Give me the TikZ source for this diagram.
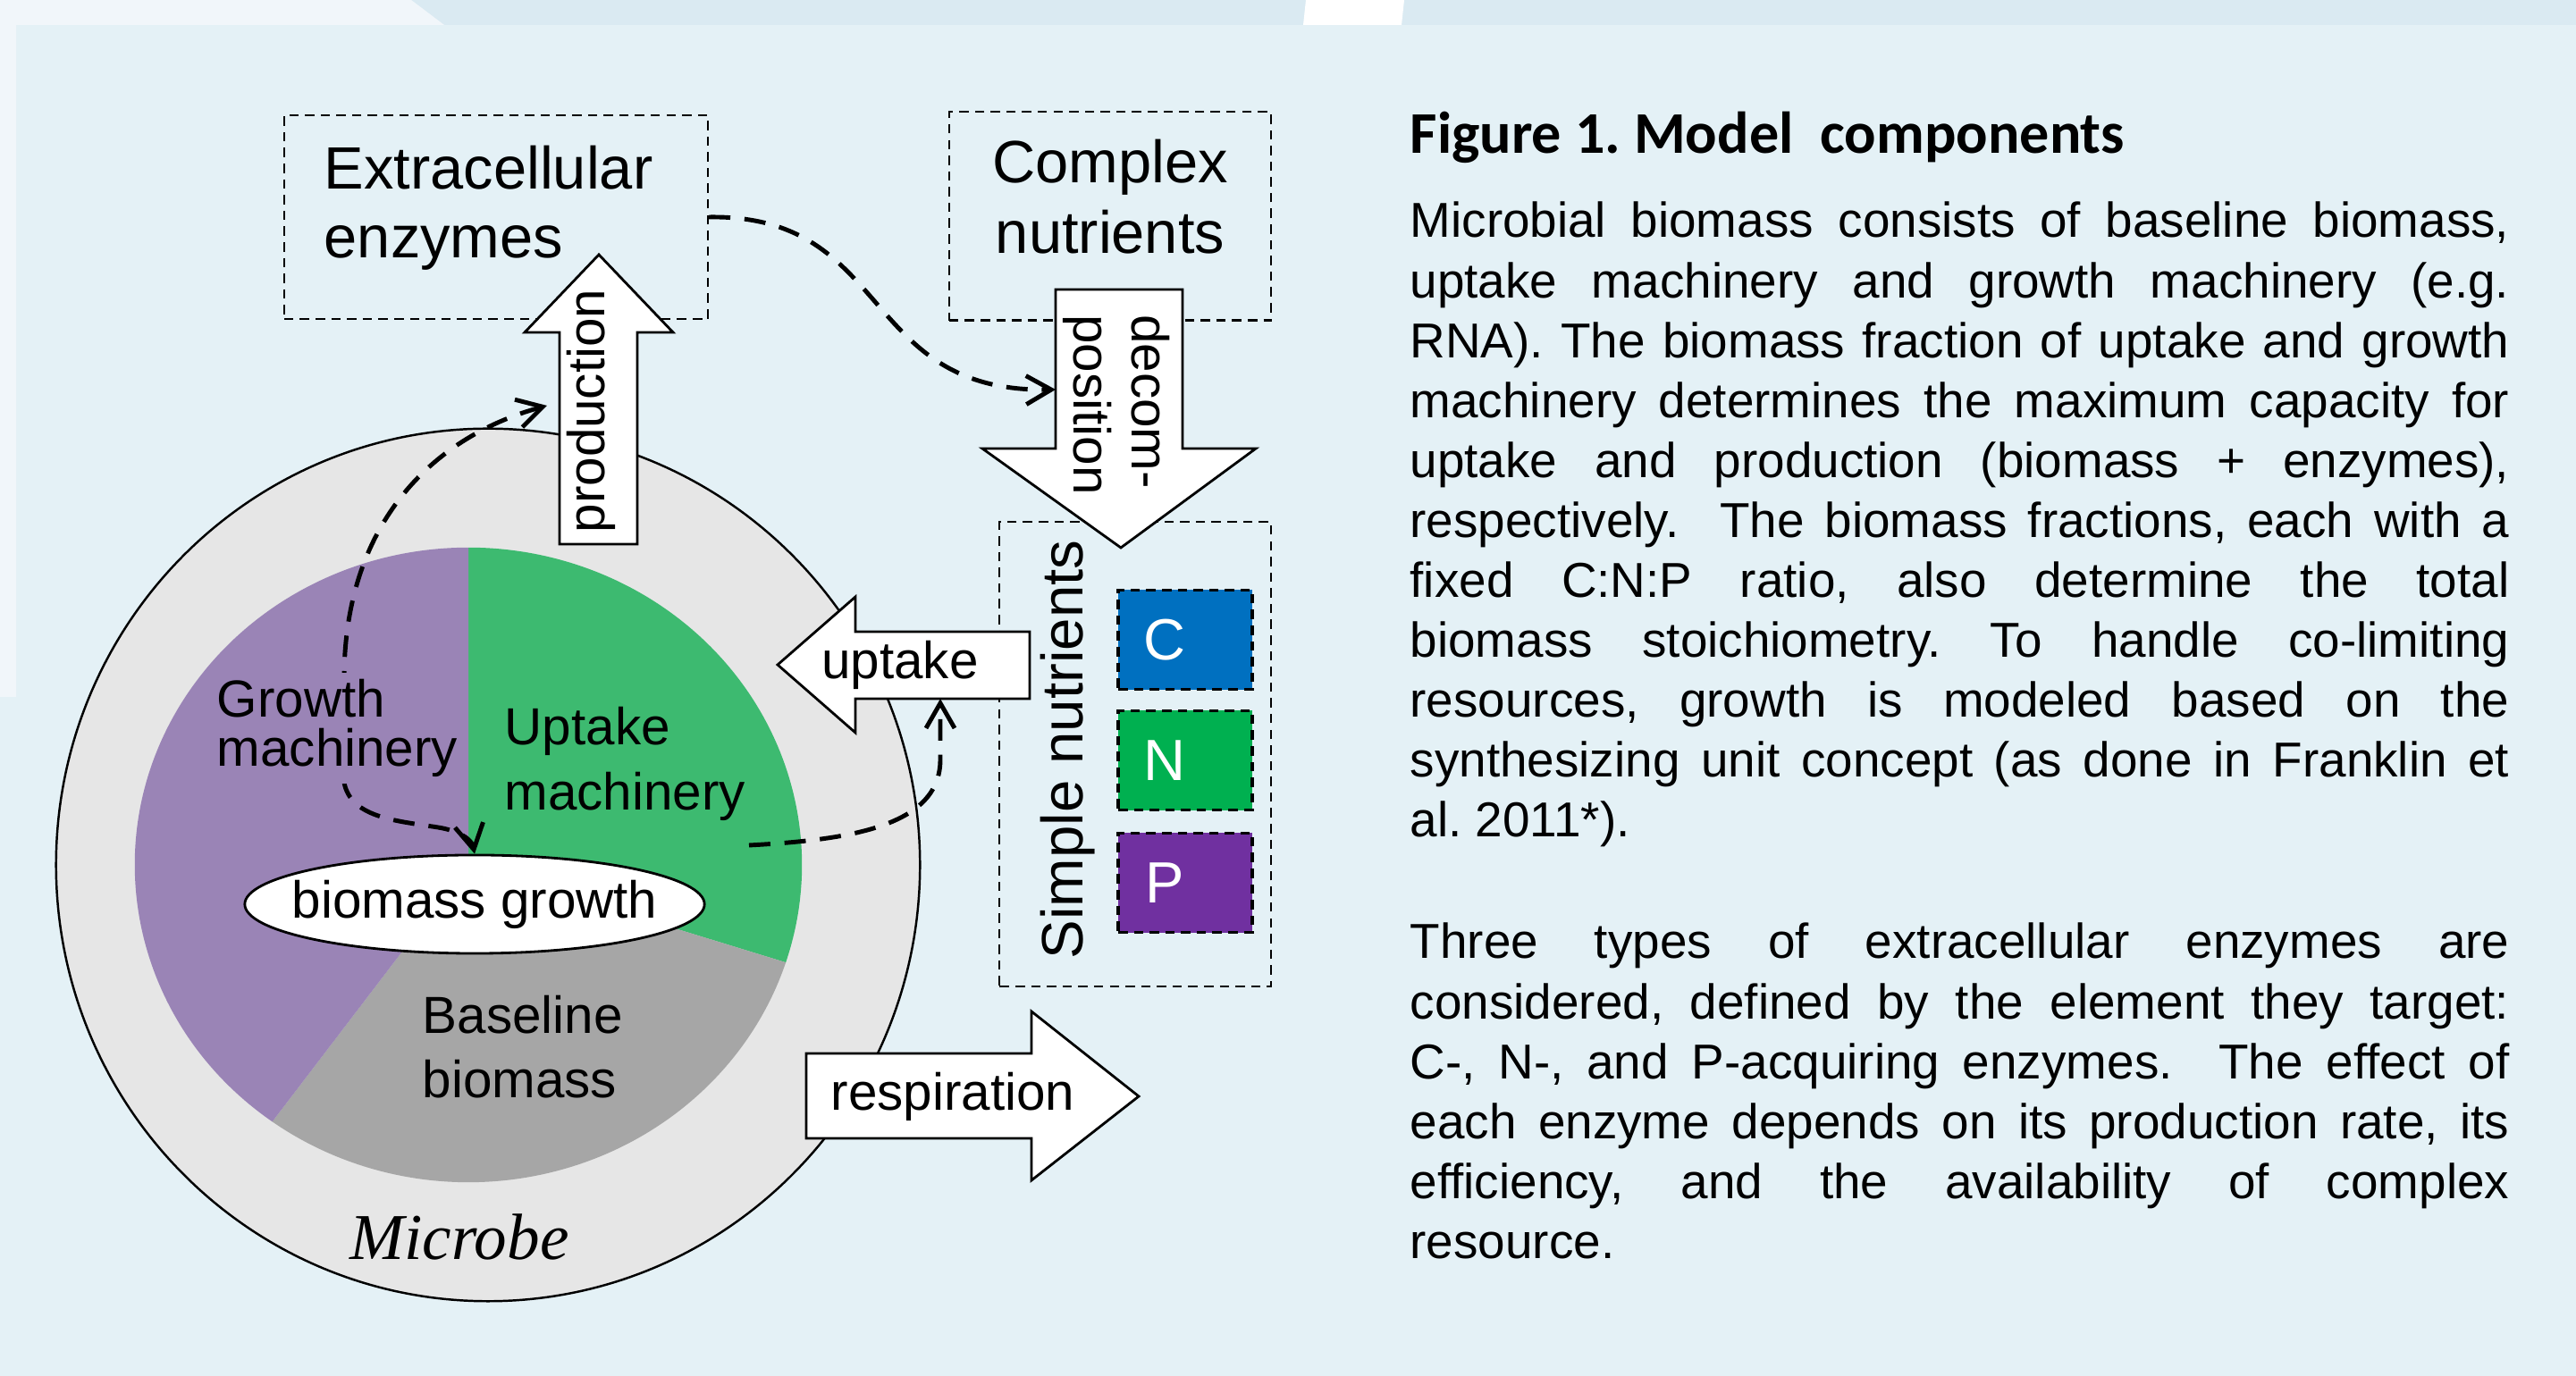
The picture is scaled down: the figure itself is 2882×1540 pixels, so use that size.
\documentclass[tikz,border=0pt]{standalone}
\usepackage{fontspec}
\setmainfont{Liberation Sans}
\newfontfamily\headfont{Carlito}
\newfontfamily\microbefont{Liberation Serif}
\usepackage{xcolor}
\usetikzlibrary{arrows.meta,shapes.geometric}

\definecolor{panelblue}{HTML}{E4F1F6}
\definecolor{bandblue}{HTML}{DAEAF2}
\definecolor{paleblue}{HTML}{F1F6FA}
\definecolor{cellgray}{HTML}{E6E6E6}
\definecolor{growthpurple}{HTML}{9A84B6}
\definecolor{uptakegreen}{HTML}{3DBA70}
\definecolor{basegray}{HTML}{A6A6A6}
\definecolor{cblue}{HTML}{0070C0}
\definecolor{ngreen}{HTML}{00B050}
\definecolor{ppurple}{HTML}{7030A0}

\tikzset{flowtip/.tip={Straight Barb[length=2.8mm, width=3.2mm]}}
\frenchspacing

\begin{document}
\begin{tikzpicture}[
    x=0.01cm, y=0.01cm,
    nbox/.style={draw, line width=0.6pt, dash pattern=on 3pt off 2pt},
    elem/.style={nbox, line width=0.9pt, minimum width=1.5cm, minimum height=1.11cm},
    elemtxt/.style={text=white, inner sep=0pt, xshift=-0.23cm, font=\fontsize{18.5}{20}\selectfont},
    blockarrow/.style={draw, fill=white, line width=0.8pt},
    lbl/.style={inner sep=0pt, font=\fontsize{16.6}{19}\selectfont},
    bigtxt/.style={inner sep=0pt, font=\fontsize{19}{22}\selectfont},
    flow/.style={line width=1.4pt, dash pattern=on 6.8pt off 4.5pt},
    para/.style={anchor=base west, inner sep=0pt, text width=12.29cm, align=justify, font=\fontsize{15.6}{19.06}\selectfont}
]
\useasboundingbox (0,0) rectangle (2882,1540);

% Background
\fill[panelblue] (0,0) rectangle (2882,1540);
\fill[bandblue] (460,1540) -- (497,1512) -- (2882,1512) -- (2882,1540) -- cycle;
\fill[paleblue] (0,1540) -- (460,1540) -- (497,1512) -- (18,1512) -- (18,760) -- (0,760) -- cycle;
\fill[white] (1461,1540) -- (1571,1540) -- (1568,1512) -- (1458,1512) -- cycle;

% Microbe
\node[ellipse, draw, fill=cellgray, line width=0.7pt, minimum width=9.66cm, minimum height=9.76cm, inner sep=0pt] (microbe) at (546,572) {};
\coordinate (pie) at (524,572);
\fill[uptakegreen] (pie) -- ++(90:3.73cm and 3.55cm) arc[start angle=90, end angle=-17.9, x radius=3.73cm, y radius=3.55cm] -- cycle;
\fill[basegray] (pie) -- ++(-17.9:3.73cm and 3.55cm) arc[start angle=-17.9, end angle=-126, x radius=3.73cm, y radius=3.55cm] -- cycle;
\fill[growthpurple] (pie) -- ++(-126:3.73cm and 3.55cm) arc[start angle=-126, end angle=-270, x radius=3.73cm, y radius=3.55cm] -- cycle;
\node[ellipse, draw, fill=white, line width=0.8pt, minimum width=5.14cm, minimum height=1.10cm, inner sep=0pt, label={[lbl]center:biomass growth}] (growth) at (531,528) {};

\node[lbl, anchor=west, align=left, font=\fontsize{16.6}{20.8}\selectfont] (uptmlbl) at (564,685) {Uptake\\machinery};
\node[lbl, anchor=west, align=left, font=\fontsize{16.6}{20.5}\selectfont] (baselbl) at (472,368) {Baseline\\biomass};
\node[anchor=base, inner sep=0pt, font=\microbefont\itshape\fontsize{20.8}{24}\selectfont] (microbelbl) at (514,130) {Microbe};

% Pools
\node[nbox, minimum width=4.74cm, minimum height=2.28cm] (enz) at (555,1297) {};
\node[bigtxt, anchor=west, align=left, font=\fontsize{19}{21.9}\selectfont] (enztxt) at (362,1307) {Extracellular\\enzymes};
\node[nbox, minimum width=3.6cm, minimum height=2.33cm] (cplx) at (1242,1298) {};
\node[bigtxt, align=center, font=\fontsize{19}{22.5}\selectfont] (cplxtxt) at (1242,1320) {Complex\\nutrients};

\node[nbox, minimum width=3.03cm, minimum height=5.2cm] (simple) at (1270,696) {};
\node[lbl, rotate=90, font=\fontsize{18.6}{20}\selectfont] (simplelbl) at (1195,701) {Simple nutrients};
\node[elem, fill=cblue, label={[elemtxt]center:C}] (C) at (1326,824) {};
\node[elem, fill=ngreen, label={[elemtxt]center:N}] (N) at (1326,689) {};
\node[elem, fill=ppurple, label={[elemtxt]center:P}] (P) at (1326,552) {};

% Fluxes
\draw[blockarrow] (626,931) -- (626,1168) -- (587,1168) -- (670,1255) -- (753,1168) -- (713,1168) -- (713,931) -- cycle;
\node[lbl, rotate=90] (prodlbl) at (661,1080) {production};

\draw[blockarrow] (1181,1216) -- (1181,1038) -- (1099,1038) -- (1254,927) -- (1405,1038) -- (1323,1038) -- (1323,1216) -- cycle;
\node[lbl, rotate=-90, align=left, font=\fontsize{16.6}{18.5}\selectfont] (declbl) at (1249,1087) {decom-\\position};

\draw[blockarrow] (1152,833) -- (957,833) -- (957,872) -- (870,796) -- (957,720) -- (957,758) -- (1152,758) -- cycle;
\node[lbl] (uptlbl) at (1007,796) {uptake};

\draw[blockarrow] (902,361) -- (1154,361) -- (1154,408) -- (1274,313) -- (1154,219) -- (1154,266) -- (902,266) -- cycle;
\node[lbl] (resplbl) at (1066,313) {respiration};

% Controls
\coordinate (prodL) at (612,1086);
\coordinate (decL) at (1181,1104);
\coordinate (uptS) at (838,594);
\coordinate (uptB) at (1052,758);

\draw[flow, -flowtip] (enz.east) .. controls (1000,1300) and (960,1100) .. (decL);
\draw[flow, flowtip-flowtip] (prodL) .. controls (480,1050) and (385,950) .. (385,780) -- (384,675) .. controls (384,625) and (440,622) .. (490,614) .. controls (515,610) and (528,600) .. (growth.north);
\draw[flow, -flowtip] (uptS) .. controls (950,600) and (1052,615) .. (1052,690) -- (uptB);

\node[lbl, anchor=west, align=left, fill=growthpurple, inner sep=2pt, font=\fontsize{16.6}{15.8}\selectfont] (growmlbl) at (235,725) {Growth\\machinery};

% Caption
\node[anchor=base west, inner sep=0pt, font=\headfont\bfseries\fontsize{18.8}{22}\selectfont] (title) at (1577,1368) {Figure 1. Model~ components};
\node[para] (para1) at (1577,1274) {\tolerance=10000 \hyphenpenalty=10000
Microbial biomass consists of baseline biomass,\linebreak
uptake machinery and growth machinery (e.g.\linebreak
RNA). The biomass fraction of uptake and growth\linebreak
machinery determines the maximum capacity for\linebreak
uptake and production (biomass + enzymes),\linebreak
respectively.~ The biomass fractions, each with a\linebreak
fixed C:N:P ratio, also determine the total\linebreak
biomass stoichiometry. To handle co-limiting\linebreak
resources, growth is modeled based on the\linebreak
synthesizing unit concept (as done in Franklin et\linebreak
al. 2011*).};
\node[para] (para2) at (1577,467) {\tolerance=10000 \hyphenpenalty=10000
Three types of extracellular enzymes are\linebreak
considered, defined by the element they target:\linebreak
C-, N-, and P-acquiring enzymes.~ The effect of\linebreak
each enzyme depends on its production rate, its\linebreak
efficiency, and the availability of complex\linebreak
resource.};

\end{tikzpicture}
\end{document}
